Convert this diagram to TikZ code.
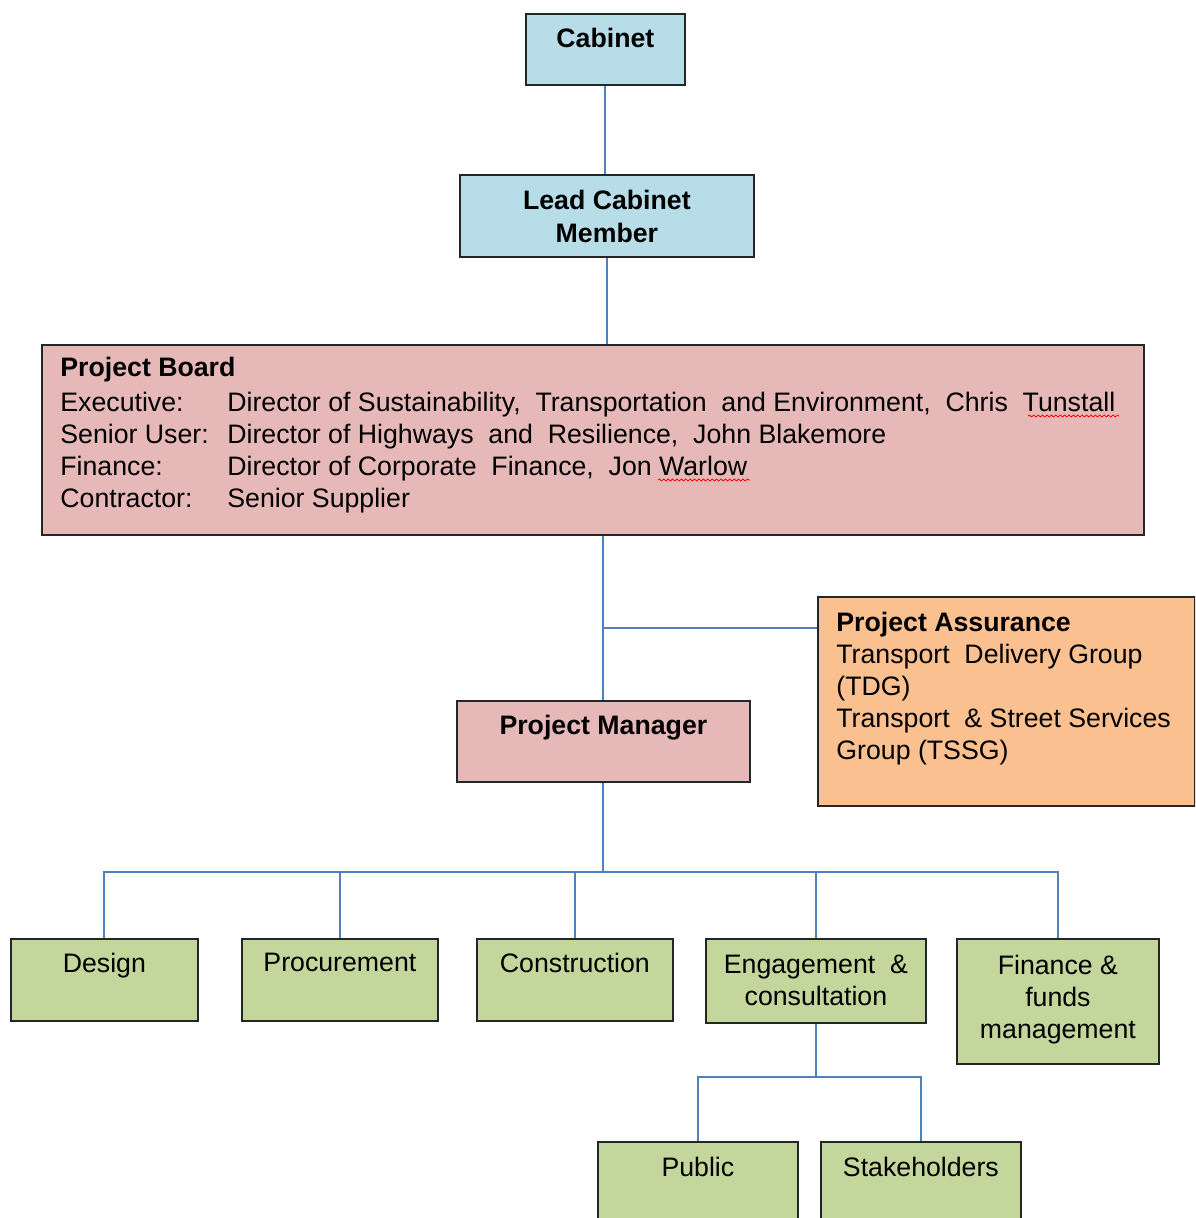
\documentclass[tikz,border=0pt]{standalone}
\usepackage{fontspec}
\setmainfont{Liberation Sans}
\usetikzlibrary{decorations.pathmorphing}
\definecolor{cabblue}{HTML}{B7DDE8}
\definecolor{boardpink}{HTML}{E6B9B8}
\definecolor{assureorange}{HTML}{FAC090}
\definecolor{teamgreen}{HTML}{C3D69B}
\definecolor{linkblue}{HTML}{4F81BD}

\begin{document}
\begin{tikzpicture}[x=0.5pt, y=-0.5pt,
    every node/.style={inner sep=0pt, font=\fontsize{13.35}{16}\selectfont},
    orgbox/.style={draw=black!85, line width=0.9pt, anchor=north west},
    boxtext/.style={anchor=north, align=center},
    link/.style={draw=linkblue, line width=1pt},
    spellmark/.style={draw=red, line width=0.4pt, decorate,
        decoration={snake, amplitude=0.5pt, segment length=2.2pt}}]
    \clip (0,0) rectangle (1195,1218);

    % Boxes
    \node[orgbox, fill=cabblue, minimum width=79.5pt, minimum height=35.5pt] (cab) at (525,13) {};
    \node[orgbox, fill=cabblue, minimum width=147pt, minimum height=41pt] (lcm) at (459,174) {};
    \node[orgbox, fill=boardpink, minimum width=551pt, minimum height=95pt] (pb) at (41,344) {};
    \node[orgbox, fill=assureorange, minimum width=188.5pt, minimum height=104.5pt] (pa) at (817,596) {};
    \node[orgbox, fill=boardpink, minimum width=146.5pt, minimum height=40.5pt] (pm) at (456,700) {};
    \node[orgbox, fill=teamgreen, minimum width=93.5pt, minimum height=41pt] (des) at (10,938) {};
    \node[orgbox, fill=teamgreen, minimum width=98pt, minimum height=41pt] (pro) at (241,938) {};
    \node[orgbox, fill=teamgreen, minimum width=98pt, minimum height=41pt] (con) at (476,938) {};
    \node[orgbox, fill=teamgreen, minimum width=110pt, minimum height=42pt] (eng) at (705,938) {};
    \node[orgbox, fill=teamgreen, minimum width=101pt, minimum height=62.5pt] (fin) at (956,938) {};
    \node[orgbox, fill=teamgreen, minimum width=100pt, minimum height=50pt] (pub) at (597,1141) {};
    \node[orgbox, fill=teamgreen, minimum width=100pt, minimum height=50pt] (sta) at (820,1141) {};

    % Texts
    \node[boxtext, font=\fontsize{13.35}{16}\selectfont\bfseries] (cab-t) at ([yshift=-7.5pt]cab.north) {Cabinet};
    \node[boxtext, font=\fontsize{13.35}{16.5}\selectfont\bfseries] (lcm-t) at ([yshift=-8pt]lcm.north) {Lead Cabinet\\Member};
    \node[anchor=north west, align=left] (pb-t) at ([xshift=9.5pt, yshift=-6.5pt]pb.north west)
        {\textbf{Project Board}\\[1.5pt]
         \makebox[83.5pt][l]{Executive:}Director of Sustainability,~ Transportation~ and Environment,~ Chris~ Tunstall\\
         \makebox[83.5pt][l]{Senior User:}Director of Highways~ and~ Resilience,~ John Blakemore\\
         \makebox[83.5pt][l]{Finance:}Director of Corporate~ Finance,~ Jon Warlow\\
         \makebox[83.5pt][l]{Contractor:}Senior Supplier};
    \node[anchor=north west, align=left] (pa-t) at ([xshift=9.5pt, yshift=-8pt]pa.north west)
        {\textbf{Project Assurance}\\
         Transport~ Delivery Group\\
         (TDG)\\
         Transport~ \& Street Services\\
         Group (TSSG)};
    \node[boxtext, font=\fontsize{13.35}{16}\selectfont\bfseries] (pm-t) at ([yshift=-7.5pt]pm.north) {Project Manager};
    \node[boxtext] (des-t) at ([yshift=-7.5pt]des.north) {Design};
    \node[boxtext] (pro-t) at ([yshift=-7.5pt]pro.north) {Procurement};
    \node[boxtext] (con-t) at ([yshift=-7.5pt]con.north) {Construction};
    \node[boxtext] (eng-t) at ([yshift=-8.5pt]eng.north) {Engagement~ \&\\consultation};
    \node[boxtext] (fin-t) at ([yshift=-8.5pt]fin.north) {Finance \&\\funds\\management};
    \node[boxtext] (pub-t) at ([yshift=-8pt]pub.north) {Public};
    \node[boxtext] (sta-t) at ([yshift=-8pt]sta.north) {Stakeholders};

    % Connectors
    \coordinate (pa-in) at ([yshift=-16pt]pa.north west);
    \coordinate (bus) at (602,872);
    \coordinate (sub) at (813,1077);
    \draw[link] (cab.south) -- (cab.south |- lcm.north);
    \draw[link] (lcm.south) -- (lcm.south |- pb.north);
    \draw[link] (pm.north |- pb.south) -- (pm.north);
    \draw[link] (pm.north |- pa-in) -- (pa-in);
    \draw[link] (pm.south) -- (pm.south |- bus);
    \draw[link] (des.north) -- (des.north |- bus) -- (fin.north |- bus) -- (fin.north);
    \draw[link] (pro.north) -- (pro.north |- bus);
    \draw[link] (con.north) -- (con.north |- bus);
    \draw[link] (eng.north) -- (eng.north |- bus);
    \draw[link] (eng.south) -- (eng.south |- sub);
    \draw[link] (pub.north) -- (pub.north |- sub) -- (sta.north |- sub) -- (sta.north);

    % spell-check marks
    \draw[spellmark] (1028,416) -- (1119,416);
    \draw[spellmark] (658,480) -- (750,480);
\end{tikzpicture}
\end{document}
